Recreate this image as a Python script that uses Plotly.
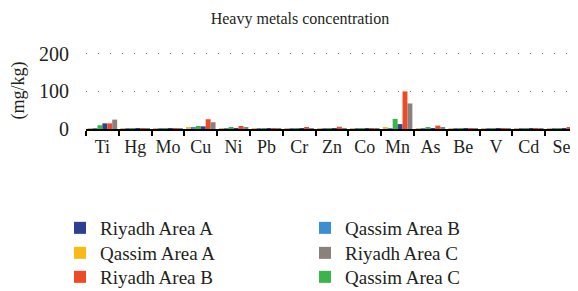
import plotly.graph_objects as go

elements = ["Ti", "Hg", "Mo", "Cu", "Ni", "Pb", "Cr", "Zn", "Co", "Mn", "As", "Be", "V", "Cd", "Se"]

qassim_a = [1.5, 0.3, 0.2, 4, 1, 1, 0.5, 1, 0.5, 3, 2, 0.1, 0.3, 0.5, 2]
qassim_b = [1, 0.2, 0.1, 4, 1, 0.5, 0.5, 1, 0.3, 2, 1, 0.1, 0.2, 0.5, 2]
qassim_c = [10, 0.2, 0.2, 8, 3, 0.5, 1, 1, 0.3, 27, 3, 0.1, 0.2, 0.5, 1]
riyadh_a = [15, 0.3, 0.3, 7, 2, 0.5, 1, 2, 0.5, 13, 1, 0.1, 0.3, 0.5, 1]
riyadh_b = [15, 0.5, 0.4, 26, 8, 2, 4, 6, 1, 100, 9, 0.2, 0.4, 1, 3]
riyadh_c = [25, 0.3, 0.3, 18, 5, 1, 2, 2, 0.5, 68, 3, 0.1, 0.3, 0.5, 2]

# (name, values, colour, legend id, legend column, legend row)
series = [
    ("Qassim Area A", qassim_a, "#FDB913", "legend2", 0, 1),
    ("Qassim Area B", qassim_b, "#3B8ED0", "legend4", 1, 0),
    ("Qassim Area C", qassim_c, "#3AB54A", "legend6", 1, 2),
    ("Riyadh Area A", riyadh_a, "#2E3F8F", "legend", 0, 0),
    ("Riyadh Area B", riyadh_b, "#EE4A25", "legend3", 0, 2),
    ("Riyadh Area C", riyadh_c, "#8A817C", "legend5", 1, 1),
]

serif = "Liberation Serif"
txt = "#231F20"
# page body has an 8px margin, so the figure is sized to fit inside the window
W, H = 570, 283
L, T, B = 78, 44, 162
PW, PH = W - L, H - T - B

fig = go.Figure()
legends = {}
col_x = [52, 297]
row_y = [220, 245, 269]
for name, vals, color, leg, col, row in series:
    fig.add_trace(go.Bar(x=elements, y=vals, name=name, marker_color=color,
                         marker_line_width=0, legend=leg))
    legends[leg] = dict(x=(col_x[col] - L) / PW, y=((H - B) - row_y[row]) / PH,
                        xanchor="left", yanchor="middle", orientation="v",
                        font=dict(family=serif, size=19, color=txt),
                        bgcolor="rgba(0,0,0,0)", borderwidth=0)

fig.update_layout(
    width=W, height=H,
    margin=dict(l=L, r=0, t=T, b=B, autoexpand=False),
    paper_bgcolor="white", plot_bgcolor="white",
    font=dict(family=serif, size=16, color=txt),
    title=dict(text="Heavy metals concentration", x=292 / W, xanchor="center", xref="container",
               y=1 - 10 / H, yanchor="middle", yref="container",
               font=dict(family=serif, size=16, color=txt)),
    barmode="group", bargap=0.1, bargroupgap=0.0,
    showlegend=True,
    **legends,
)
fig.update_xaxes(type="category", showline=True, linecolor="black", linewidth=2,
                 ticks="outside", tickson="boundaries", ticklen=5, tickcolor="black",
                 tickwidth=1.5, showgrid=False, tickangle=0,
                 tickfont=dict(family=serif, size=18, color=txt))
fig.update_yaxes(range=[0, 205], tickvals=[0, 100, 200], showgrid=True,
                 gridcolor="#777", griddash="1px,11px", gridwidth=1.2, zeroline=False,
                 showline=False, ticks="", ticklabelstandoff=16,
                 title=dict(text="(mg/kg)", font=dict(family=serif, size=18, color=txt), standoff=12),
                 tickfont=dict(family=serif, size=20, color=txt))

fig.write_html("out.html")
